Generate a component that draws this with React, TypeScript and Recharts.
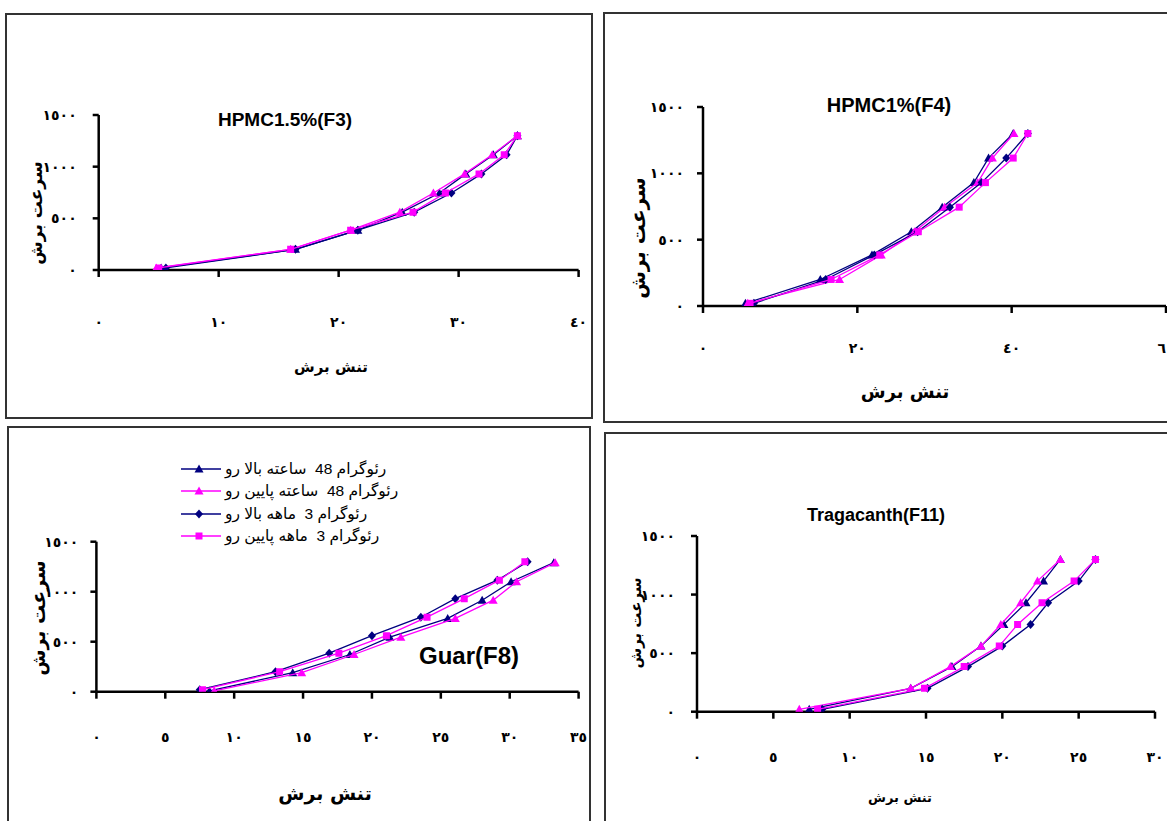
import React from 'react';
import { ScatterChart, Scatter, XAxis, YAxis, Legend } from 'recharts';

const NAVY = '#000080';
const MAGENTA = '#ff00ff';

// legend names, same order in every panel
const SERIES_NAMES = [
  'رئوگرام 48  ساعته بالا رو',
  'رئوگرام 48  ساعته پایین رو',
  'رئوگرام 3  ماهه بالا رو',
  'رئوگرام 3  ماهه پایین رو',
];
const SERIES_COLORS = [NAVY, MAGENTA, NAVY, MAGENTA];
const SERIES_SHAPES = ['triangle', 'triangle', 'diamond', 'square'] as const;

// shear rate levels (y)
const SHEAR_RATE = [20, 200, 385, 560, 745, 930, 1115, 1300];
const GUAR_RATE_48H = [8, 190, 372, 545, 733, 915, 1100, 1290];
const RATE_TICKS = [0, 500, 1000, 1500];

// shear stress (x) per panel and series
const F3_UP_48H = [5.2, 16.4, 21.6, 25.3, 28.4, 30.6, 32.9, 34.9];
const F3_DOWN_48H = [4.8, 16.0, 21.0, 25.1, 27.9, 30.5, 32.8, 34.9];
const F3_UP_3M = [5.6, 16.4, 21.6, 26.3, 29.4, 31.9, 34.0, 34.9];
const F3_DOWN_3M = [5.0, 16.0, 21.0, 26.2, 28.9, 31.7, 33.8, 34.9];

const F4_UP_48H = [5.5, 15.2, 21.9, 27.0, 31.0, 35.1, 37.0, 40.2];
const F4_DOWN_48H = [5.8, 17.7, 23.1, 27.4, 31.3, 35.6, 37.5, 40.3];
const F4_UP_3M = [6.6, 15.9, 22.2, 27.8, 32.0, 36.1, 39.3, 42.1];
const F4_DOWN_3M = [6.1, 16.6, 22.9, 27.9, 33.2, 36.6, 40.2, 42.1];

const F8_UP_48H = [8.2, 14.25, 18.4, 21.3, 25.5, 28.0, 30.1, 33.2];
const F8_DOWN_48H = [8.55, 14.9, 18.7, 22.1, 26.05, 28.8, 30.5, 33.3];
const F8_UP_3M = [7.5, 13.0, 16.9, 20.0, 23.55, 26.05, 29.1, 31.3];
const F8_DOWN_3M = [7.7, 13.3, 17.6, 21.05, 24.0, 26.7, 29.25, 31.1];

const F11_UP_48H = [7.35, 14.0, 16.7, 18.6, 20.1, 21.55, 22.7, 23.8];
const F11_DOWN_48H = [6.7, 14.0, 16.6, 18.6, 19.9, 21.2, 22.3, 23.8];
const F11_UP_3M = [8.2, 15.1, 17.75, 20.0, 21.85, 23.0, 25.0, 26.1];
const F11_DOWN_3M = [7.9, 14.9, 17.5, 19.8, 21.0, 22.6, 24.7, 26.1];

const AR_DIGITS = '٠١٢٣٤٥٦٧٨٩';
const arNum = (v: number) => String(v).replace(/\d/g, (d) => AR_DIGITS[+d]);

const pts = (stress: number[], rate: number[]) => stress.map((s, i) => ({ stress: s, rate: rate[i] }));

const AR_FONT = '"DejaVu Sans", sans-serif';
const LAT_FONT = '"Liberation Sans", Arial, "DejaVu Sans", sans-serif';

const Y_AXIS_W = 40;
const X_AXIS_H = 30;

const panels = [
  {
    id: 'f3',
    box: { l: 5, t: 13, r: 593, b: 419 },
    plot: { x0: 98.7, x1: 578.6, yTop: 115, yBottom: 270 },
    xDomain: [0, 40], xTicks: [0, 10, 20, 30, 40], xTickMargin: 40, yTickMargin: 16,
    series: [pts(F3_UP_48H, SHEAR_RATE), pts(F3_DOWN_48H, SHEAR_RATE), pts(F3_UP_3M, SHEAR_RATE), pts(F3_DOWN_3M, SHEAR_RATE)],
    legend: false,
  },
  {
    id: 'f4',
    box: { l: 603, t: 12, r: 1185, b: 423 },
    plot: { x0: 703, x1: 1166, yTop: 107, yBottom: 306 },
    xDomain: [0, 60], xTicks: [0, 20, 40, 60], xTickMargin: 30, yTickMargin: 13,
    series: [pts(F4_UP_48H, SHEAR_RATE), pts(F4_DOWN_48H, SHEAR_RATE), pts(F4_UP_3M, SHEAR_RATE), pts(F4_DOWN_3M, SHEAR_RATE)],
    legend: false,
  },
  {
    id: 'f8',
    box: { l: 7, t: 426, r: 591, b: 835 },
    plot: { x0: 96.4, x1: 578.6, yTop: 541.7, yBottom: 691.7 },
    xDomain: [0, 35], xTicks: [0, 5, 10, 15, 20, 25, 30, 35], xTickMargin: 33, yTickMargin: 12,
    series: [pts(F8_UP_48H, GUAR_RATE_48H), pts(F8_DOWN_48H, GUAR_RATE_48H), pts(F8_UP_3M, SHEAR_RATE), pts(F8_DOWN_3M, SHEAR_RATE)],
    legend: true,
  },
  {
    id: 'f11',
    box: { l: 604, t: 432, r: 1185, b: 835 },
    plot: { x0: 697, x1: 1155, yTop: 536, yBottom: 711.7 },
    xDomain: [0, 30], xTicks: [0, 5, 10, 15, 20, 25, 30], xTickMargin: 33, yTickMargin: 16,
    series: [pts(F11_UP_48H, SHEAR_RATE), pts(F11_DOWN_48H, SHEAR_RATE), pts(F11_UP_3M, SHEAR_RATE), pts(F11_DOWN_3M, SHEAR_RATE)],
    legend: false,
  },
];

const labels = [
  { text: 'HPMC1.5%(F3)', x: 285, y: 119, size: 19, font: LAT_FONT },
  { text: 'سرعت برش', x: 36, y: 213, size: 17, font: AR_FONT, rotate: true },
  { text: 'تنش برش', x: 331, y: 367, size: 15, font: AR_FONT },
  { text: 'HPMC1%(F4)', x: 889, y: 105, size: 20, font: LAT_FONT },
  { text: 'سرعت برش', x: 638, y: 238, size: 20, font: AR_FONT, rotate: true },
  { text: 'تنش برش', x: 905, y: 392, size: 18, font: AR_FONT },
  { text: 'سرعت برش', x: 38, y: 618, size: 19, font: AR_FONT, rotate: true },
  { text: 'تنش برش', x: 325, y: 793, size: 19, font: AR_FONT },
  { text: 'Guar(F8)', x: 469, y: 656, size: 24, font: LAT_FONT },
  { text: 'Tragacanth(F11)', x: 876, y: 515, size: 18, font: LAT_FONT },
  { text: 'سرعت برش', x: 636, y: 623, size: 15, font: AR_FONT, rotate: true },
  { text: 'تنش برش', x: 900, y: 797, size: 13, font: AR_FONT },
];

function markerPath(type: string, cx: number, cy: number) {
  if (type === 'triangle') return `M${cx},${cy - 4.5}L${cx + 4.5},${cy + 3.5}L${cx - 4.5},${cy + 3.5}Z`;
  if (type === 'diamond') return `M${cx},${cy - 4.5}L${cx + 4},${cy}L${cx},${cy + 4.5}L${cx - 4},${cy}Z`;
  return `M${cx - 3.5},${cy - 3.5}h7v7h-7Z`;
}

const renderLegend = (props: any) => {
  const payload = [...(props.payload || [])].sort(
    (a: any, b: any) => SERIES_NAMES.indexOf(a.value) - SERIES_NAMES.indexOf(b.value),
  );
  return (
    <div style={{ fontFamily: LAT_FONT, fontSize: 15.5 }}>
      {payload.map((e: any, i: number) => {
        const idx = SERIES_NAMES.indexOf(e.value);
        return (
          <div key={i} style={{ display: 'flex', alignItems: 'center', height: 22.3 }}>
            <svg width={40} height={12}>
              <line x1={0} y1={6} x2={40} y2={6} stroke={e.color} strokeWidth={1.5} />
              <path d={markerPath(SERIES_SHAPES[idx], 18, 6)} fill={e.color} />
            </svg>
            <span dir="rtl" style={{ marginLeft: 4, whiteSpace: 'pre' }}>{e.value}</span>
          </div>
        );
      })}
    </div>
  );
};

const axisStroke = { stroke: '#000', strokeWidth: 2.5 };
const tickStyle = { fill: '#000', fontSize: 14, fontWeight: 'bold', fontFamily: AR_FONT };

function Panel({ cfg }: { cfg: any }) {
  const { box, plot } = cfg;
  const w = box.r - box.l;
  const h = box.b - box.t;
  return (
    <>
      <div
        style={{
          position: 'absolute', left: box.l, top: box.t, width: w, height: h,
          border: '2px solid #333', boxSizing: 'border-box',
        }}
      />
      <div style={{ position: 'absolute', left: box.l, top: box.t }}>
        <ScatterChart
          width={w}
          height={h}
          margin={{
            top: plot.yTop - box.t,
            bottom: box.b - plot.yBottom - X_AXIS_H,
            left: plot.x0 - box.l - Y_AXIS_W,
            right: box.r - plot.x1,
          }}
        >
          <XAxis
            type="number" dataKey="stress" domain={cfg.xDomain} ticks={cfg.xTicks} interval={0}
            height={X_AXIS_H} axisLine={axisStroke} tickLine={axisStroke} tickSize={7}
            tickMargin={cfg.xTickMargin} tick={tickStyle} tickFormatter={arNum} allowDataOverflow
          />
          <YAxis
            type="number" dataKey="rate" domain={[0, 1500]} ticks={RATE_TICKS} interval={0}
            width={Y_AXIS_W} axisLine={axisStroke} tickLine={axisStroke} tickSize={6}
            tickMargin={cfg.yTickMargin} tick={tickStyle} tickFormatter={arNum} allowDataOverflow
          />
          {cfg.legend && (
            <Legend
              layout="vertical" align="center" verticalAlign="middle" content={renderLegend}
              wrapperStyle={{ left: 174, top: 32, width: 280, height: 92 }}
            />
          )}
          {cfg.series.map((data: any[], i: number) => (
            <Scatter
              key={i}
              name={SERIES_NAMES[i]}
              data={data}
              fill={SERIES_COLORS[i]}
              shape={(p: any) => <path d={markerPath(SERIES_SHAPES[i], p.cx, p.cy)} fill={SERIES_COLORS[i]} />}
              line={{ stroke: SERIES_COLORS[i], strokeWidth: 1.3 }}
              isAnimationActive={false}
            />
          ))}
        </ScatterChart>
      </div>
    </>
  );
}

export default function App() {
  return (
    <div
      style={{
        position: 'absolute', left: 0, top: 0, width: 1167, height: 821,
        overflow: 'hidden', background: '#fff',
      }}
    >
      {panels.map((p) => (
        <Panel key={p.id} cfg={p} />
      ))}
      {labels.map((l, i) => (
        <div
          key={i}
          style={{
            position: 'absolute', left: l.x, top: l.y, whiteSpace: 'nowrap',
            transform: `translate(-50%, -50%)${l.rotate ? ' rotate(-90deg)' : ''}`,
            fontFamily: l.font, fontSize: l.size, fontWeight: 'bold', color: '#000', lineHeight: 1,
          }}
        >
          {l.text}
        </div>
      ))}
    </div>
  );
}
